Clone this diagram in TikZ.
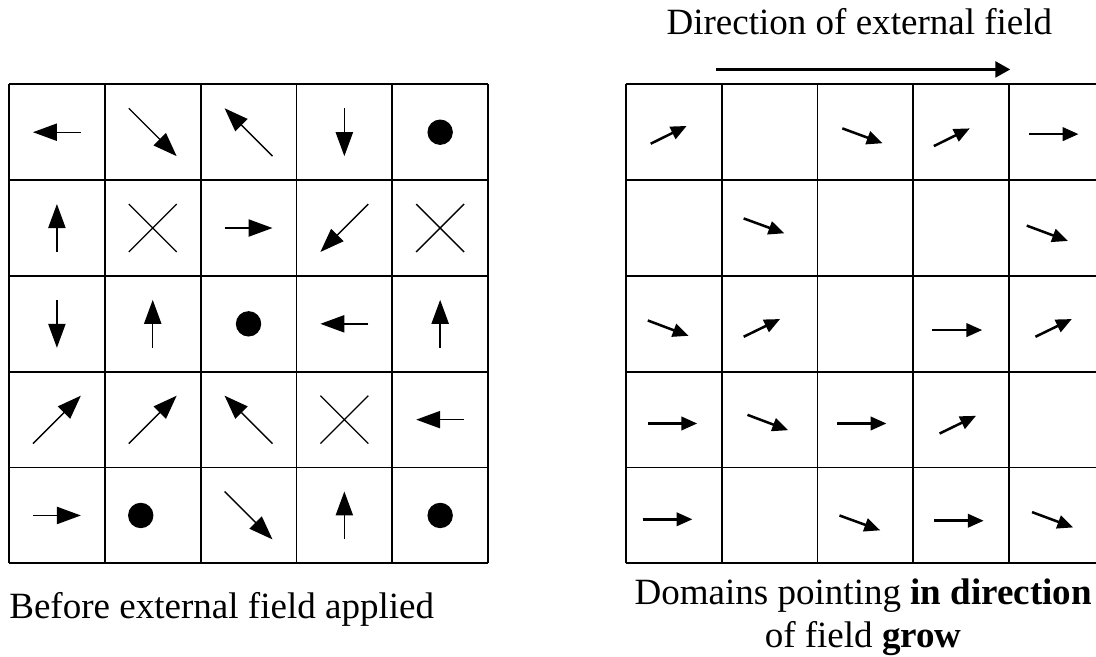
\documentclass[tikz,border=0pt]{standalone}
\usepackage{fontspec}
\setmainfont{Liberation Serif}
\usetikzlibrary{arrows.meta}

\begin{document}
\begin{tikzpicture}[
		gridline/.style={line width=1.1pt},
		spin/.style={line width=0.8pt, -{Triangle[length=0.5cm, width=0.36cm]}},
		fspin/.style={line width=1.5pt, -{Triangle[length=0.33cm, width=0.28cm]}},
		field/.style={line width=1.6pt, -{Triangle[length=0.31cm, width=0.33cm]}},
		caption/.style={font=\fontsize{22}{25}\selectfont, inner sep=0pt}]

	\useasboundingbox (-0.188,-1.935) rectangle (22.69,11.76);

	% ===== before the field =====
	\begin{scope}
		\draw[gridline, step=2] (0,0) grid (10,10);
		% column/row, start and end relative to the cell centre
		\foreach \c/\r/\ax/\ay/\bx/\by in {
				0/0/0.5/0/-0.5/0, 1/0/-0.5/0.5/0.5/-0.5, 2/0/0.5/-0.5/-0.5/0.5, 3/0/0/0.5/0/-0.5,
				0/1/0/-0.5/0/0.5, 2/1/-0.5/0/0.5/0, 3/1/0.5/0.5/-0.5/-0.5,
				0/2/0/0.5/0/-0.5, 1/2/0/-0.5/0/0.5, 3/2/0.5/0/-0.5/0, 4/2/0/-0.5/0/0.5,
				0/3/-0.5/-0.5/0.5/0.5, 1/3/-0.5/-0.5/0.5/0.5, 2/3/0.5/-0.5/-0.5/0.5, 4/3/0.5/0/-0.5/0,
				0/4/-0.5/0/0.5/0, 2/4/-0.5/0.5/0.5/-0.5, 3/4/0/-0.5/0/0.5}
			\draw[spin] ({2*\c+1+\ax},{9-2*\r+\ay}) -- ({2*\c+1+\bx},{9-2*\r+\by});
		% out of the plane
		\foreach \c/\r/\dx in {4/0/0, 2/2/0, 1/4/-0.25, 4/4/0}
			\fill ({2*\c+1+\dx},{9-2*\r}) circle (0.265);
		% into the plane
		\foreach \c/\r in {1/1, 4/1, 3/3}
			\draw[line width=0.8pt] ({2*\c+0.5},{8.5-2*\r}) -- ({2*\c+1.5},{9.5-2*\r})
				({2*\c+0.5},{9.5-2*\r}) -- ({2*\c+1.5},{8.5-2*\r});
		\node[caption, anchor=base west] (before) at (0,-1.142) {Before external field applied};
	\end{scope}

	% ===== after the field =====
	\begin{scope}[xshift=12.875cm]
		\node[caption, anchor=base] (title) at (4.875,11.03) {Direction of external field};
		\coordinate (fstart) at (1.885,10.31);
		\coordinate (fend) at (8.025,10.31);
		\draw[field] (fstart) -- (fend);

		\draw[gridline, step=2] (0,0) grid (10,10);
		\foreach \c/\r/\ax/\ay/\bx/\by in {
				0/0/-0.48/-0.24/0.27/0.13, 2/0/-0.48/0.08/0.36/-0.23, 3/0/-0.57/-0.29/0.18/0.08, 4/0/-0.58/-0.04/0.45/-0.04,
				1/1/-0.54/0.2/0.31/-0.11, 4/1/-0.63/0.05/0.23/-0.27,
				0/2/-0.54/0.07/0.31/-0.25, 1/2/-0.54/-0.27/0.22/0.10, 3/2/-0.6/-0.13/0.44/-0.13, 4/2/-0.45/-0.27/0.31/0.10,
				0/3/-0.54/-0.08/0.49/-0.08, 1/3/-0.46/0.1/0.39/-0.22, 2/3/-0.59/-0.08/0.44/-0.08, 3/3/-0.45/-0.29/0.31/0.08,
				0/4/-0.65/-0.08/0.39/-0.08, 2/4/-0.54/0/0.31/-0.31, 3/4/-0.56/-0.11/0.47/-0.11, 4/4/-0.52/0.07/0.34/-0.25}
			\draw[fspin] ({2*\c+1+\ax},{9-2*\r+\ay}) -- ({2*\c+1+\bx},{9-2*\r+\by});
		% base anchor sits on the last line
		\node[caption, anchor=base, align=center] (after) at (4.955,-1.747)
			{Domains pointing \textbf{in direction}\\of field \textbf{grow}};
	\end{scope}
\end{tikzpicture}
\end{document}
